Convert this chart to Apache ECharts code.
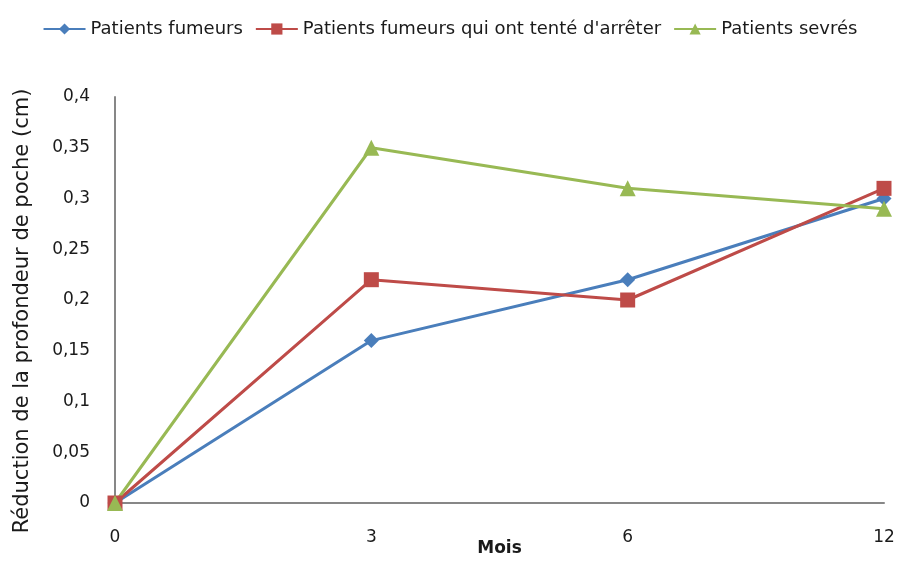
<!DOCTYPE html>
<html>
<head>
<meta charset="utf-8">
<script src="https://cdn.jsdelivr.net/npm/echarts@6/dist/echarts.min.js"></script>
<style>
  html, body { margin: 0; padding: 0; background: #fff; }
  #chart { width: 900px; height: 561px; }
</style>
</head>
<body>
<div id="chart"></div>
<script>
// Months of follow-up
const months = ['0', '3', '6', '12'];
// Pocket depth reduction (cm) per group
const fumeurs = [0, 0.16, 0.22, 0.30];
const tentative = [0, 0.22, 0.20, 0.31];
const sevres = [0, 0.35, 0.31, 0.29];

const FONT = '"DejaVu Sans", "Open Sans", sans-serif';
const INK = '#1a1a1a';

const chart = echarts.init(document.getElementById('chart'));

function lineSeries(name, data, color, symbol, size) {
  return {
    name: name,
    type: 'line',
    data: data,
    symbol: symbol,
    symbolSize: size,
    showAllSymbol: true,
    lineStyle: { color: color, width: 3 },
    itemStyle: { color: color },
    emphasis: { disabled: true }
  };
}

chart.setOption({
  animation: false,
  textStyle: { fontFamily: FONT },
  legend: {
    top: 15,
    left: 'center',
    itemWidth: 42,
    itemHeight: 14,
    itemGap: 12,
    textStyle: { fontSize: 18, color: INK, fontFamily: FONT },
    data: ['Patients fumeurs', "Patients fumeurs qui ont tenté d'arrêter", 'Patients sevrés']
  },
  grid: {
    left: 115, right: 16, top: 97, bottom: 58,
    containLabel: false,
    outerBoundsMode: 'none'
  },
  xAxis: {
    type: 'category',
    data: months,
    boundaryGap: false,
    name: 'Mois',
    nameLocation: 'middle',
    nameGap: 37,
    nameMoveOverlap: false,
    nameTextStyle: { fontSize: 17, fontWeight: 'bold', color: INK, fontFamily: FONT },
    axisLine: { lineStyle: { color: '#878787', width: 2 } },
    axisTick: { show: false },
    axisLabel: { fontSize: 17, color: INK, margin: 26, fontFamily: FONT },
    splitLine: { show: false }
  },
  yAxis: {
    type: 'value',
    min: 0,
    max: 0.4,
    interval: 0.05,
    name: 'Réduction de la profondeur de poche (cm)',
    nameLocation: 'middle',
    nameGap: 82,
    nameMoveOverlap: false,
    nameTextStyle: { fontSize: 21, color: INK, fontFamily: FONT, padding: [0, 22, 0, 0] },
    axisLine: { show: true, lineStyle: { color: '#878787', width: 2 } },
    axisTick: { show: false },
    splitLine: { show: false },
    axisLabel: {
      fontSize: 17,
      color: INK,
      margin: 25,
      fontFamily: FONT,
      formatter: v => String(Math.round(v * 100) / 100).replace('.', ',')
    }
  },
  series: [
    lineSeries('Patients fumeurs', fumeurs, '#4a7ebb', 'diamond', 15),
    lineSeries("Patients fumeurs qui ont tenté d'arrêter", tentative, '#be4b48', 'rect', 15),
    lineSeries('Patients sevrés', sevres, '#98b954', 'triangle', 16)
  ]
});
</script>
</body>
</html>
